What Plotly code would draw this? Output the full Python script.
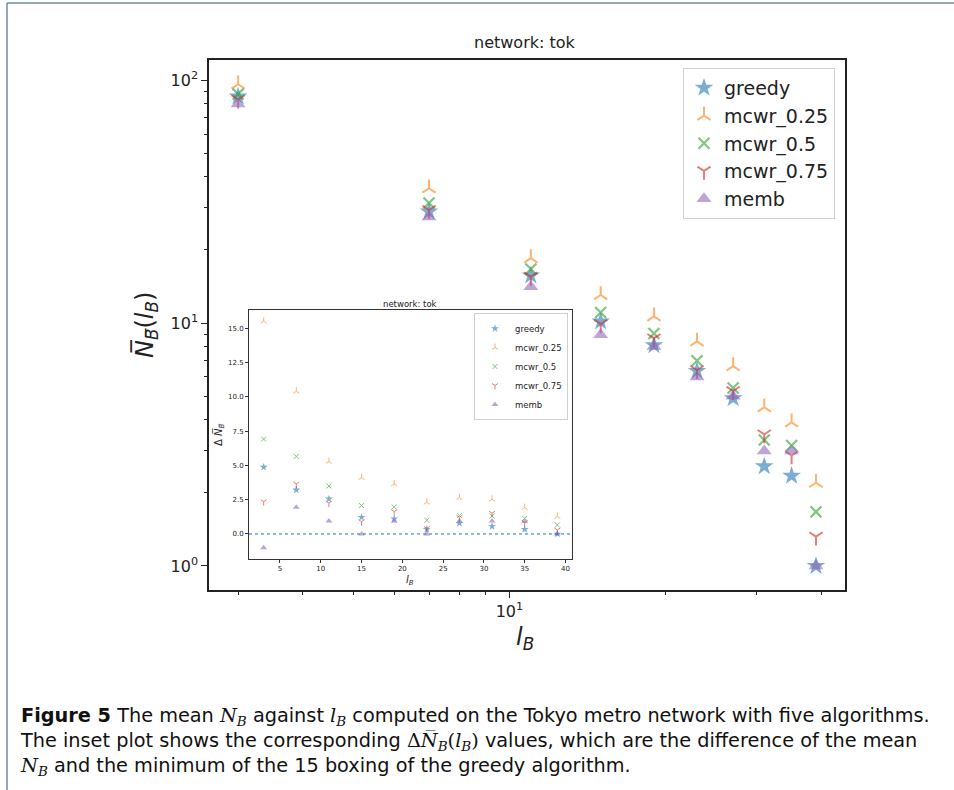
import plotly.graph_objects as go

# ---------------- data ----------------
lB = [3, 7, 11, 15, 19, 23, 27, 31, 35, 39]

# main plot: mean N_B
greedy = [85.6, 28.8, 15.7, 10.15, 8.1, 6.35, 4.9, 2.57, 2.35, 1.0]
mcwr_025 = [96.2, 35.9, 18.5, 13.05, 10.65, 8.4, 6.65, 4.5, 3.9, 2.2]
mcwr_05 = [87.6, 31.2, 16.7, 11.05, 9.05, 7.0, 5.4, 3.3, 3.13, 1.67]
mcwr_075 = [83.1, 29.2, 15.5, 9.9, 8.65, 6.4, 5.25, 3.48, 2.85, 1.32]
memb = [79.7, 27.3, 14.1, 8.95, 8.0, 6.0, 5.0, 2.97, 2.97, 1.0]

# inset: Delta N_B
d_greedy = [4.87, 3.21, 2.56, 1.22, 1.10, 0.34, 0.78, 0.56, 0.34, 0.0]
d_025 = [15.51, 10.4, 5.28, 4.11, 3.65, 2.31, 2.65, 2.53, 1.92, 1.27]
d_05 = [6.92, 5.65, 3.5, 2.07, 1.97, 1.0, 1.34, 1.31, 1.14, 0.66]
d_075 = [2.36, 3.65, 2.24, 0.9, 1.63, 0.41, 1.22, 1.51, 0.83, 0.29]
d_memb = [-1.0, 1.95, 0.95, 0.0, 0.93, 0.0, 0.95, 0.95, 0.9, 0.0]

names = ["greedy", "mcwr_0.25", "mcwr_0.5", "mcwr_0.75", "memb"]
main_series = [greedy, mcwr_025, mcwr_05, mcwr_075, memb]
inset_series = [d_greedy, d_025, d_05, d_075, d_memb]

colors = ["#1f77b4", "#ff7f0e", "#2ca02c", "#d62728", "#9467bd"]
symbols = ["star", "y-up", "x-thin", "y-down", "triangle-up"]
main_sizes = [14, 11, 11, 11, 13]
main_lw = [0, 2, 2.2, 2, 0]
inset_sizes = [6, 5, 5, 5, 6]
inset_lw = [0, 1, 1, 1, 0]

W, H = 954, 790
def px(x):
    return x / W
def py(y):
    return 1 - y / H

FONT = "DejaVu Sans"

fig = go.Figure()

for i in range(5):
    fig.add_trace(go.Scatter(
        x=lB, y=main_series[i], mode="markers", name=names[i],
        xaxis="x", yaxis="y", legend="legend",
        marker=dict(symbol=symbols[i], size=main_sizes[i], color=colors[i],
                    opacity=0.6,
                    line=dict(width=main_lw[i], color=colors[i])),
    ))

for i in range(5):
    fig.add_trace(go.Scatter(
        x=lB, y=inset_series[i], mode="markers", name=names[i],
        xaxis="x2", yaxis="y2", legend="legend2",
        marker=dict(symbol=symbols[i], size=inset_sizes[i], color=colors[i],
                    opacity=0.6,
                    line=dict(width=inset_lw[i], color=colors[i])),
    ))

minor_x = [3, 4, 5, 6, 7, 8, 9, 20, 30, 40]
minor_y = [2, 3, 4, 5, 6, 7, 8, 9, 20, 30, 40, 50, 60, 70, 80, 90]

fig.update_layout(
    width=W, height=H,
    margin=dict(l=0, r=0, t=0, b=0),
    paper_bgcolor="white", plot_bgcolor="white",
    font=dict(family=FONT, color="#222"),
    showlegend=True,
    xaxis=dict(
        type="log", domain=[px(209), px(845)], range=[0.421, 1.647],
        anchor="y", showline=True, mirror=True, linecolor="#222", linewidth=1.5,
        ticks="outside", ticklen=6, tickwidth=1.3, tickcolor="#222",
        tickvals=[10], ticktext=["10<sup>1</sup>"], tickfont=dict(size=16),
        minor=dict(ticks="outside", ticklen=3.5, tickwidth=1, tickcolor="#222",
                   tickvals=minor_x, showgrid=False),
        showgrid=False, zeroline=False,
    ),
    yaxis=dict(
        type="log", domain=[py(590), py(60)], range=[-0.099, 2.083],
        anchor="x", showline=True, mirror=True, linecolor="#222", linewidth=1.5,
        ticks="outside", ticklen=6, tickwidth=1.3, tickcolor="#222",
        tickvals=[1, 10, 100],
        ticktext=["10<sup>0</sup>", "10<sup>1</sup>", "10<sup>2</sup>"],
        tickfont=dict(size=16),
        minor=dict(ticks="outside", ticklen=3.5, tickwidth=1, tickcolor="#222",
                   tickvals=minor_y, showgrid=False),
        showgrid=False, zeroline=False,
    ),
    xaxis2=dict(
        domain=[px(249), px(572)], range=[1.2, 40.8], anchor="y2",
        showline=True, mirror=True, linecolor="#333", linewidth=1,
        ticks="outside", ticklen=3, tickwidth=0.8, tickcolor="#333",
        tickvals=[5, 10, 15, 20, 25, 30, 35, 40], tickfont=dict(size=7),
        showgrid=False, zeroline=False,
    ),
    yaxis2=dict(
        domain=[py(559), py(310)], range=[-1.825, 16.325], anchor="x2",
        showline=True, mirror=True, linecolor="#333", linewidth=1,
        ticks="outside", ticklen=3, tickwidth=0.8, tickcolor="#333",
        tickvals=[0, 2.5, 5, 7.5, 10, 12.5, 15], tickformat=".1f",
        tickfont=dict(size=7),
        showgrid=False, zeroline=False,
    ),
    legend=dict(
        x=px(835), y=py(68), xanchor="right", yanchor="top",
        bgcolor="white", bordercolor="#d0d0d0", borderwidth=1,
        font=dict(size=19, family=FONT, color="#222"),
        itemsizing="trace", tracegroupgap=0,
    ),
    legend2=dict(
        x=px(568), y=py(313), xanchor="right", yanchor="top",
        bgcolor="white", bordercolor="#d0d0d0", borderwidth=1,
        font=dict(size=8.5, family=FONT, color="#222"),
        itemsizing="trace", tracegroupgap=0,
    ),
)

# dotted zero line in inset
fig.add_shape(type="line", xref="x2 domain", yref="y2", x0=0, x1=1, y0=0, y1=0,
              line=dict(color="#1f77b4", width=1, dash="dot"))

# outer figure frame
fig.add_shape(type="line", xref="paper", yref="paper", x0=px(7), x1=1, y0=py(3), y1=py(3),
              line=dict(color="#7088a8", width=1.5))
fig.add_shape(type="line", xref="paper", yref="paper", x0=px(7), x1=px(7), y0=py(3), y1=0,
              line=dict(color="#7088a8", width=1.5))

def A(**kw):
    d = dict(xref="paper", yref="paper", showarrow=False,
             xanchor="center", yanchor="middle")
    d.update(kw)
    return d

ann = []
# main title
ann.append(A(x=px(525), y=py(43), text="network: tok",
             font=dict(size=16, family=FONT, color="#222")))
# main y label
ann.append(A(x=px(146), y=py(325), textangle=-90,
             text="<i>N\u0305</i><sub><i>B</i>\u0305</sub>(<i>l</i><sub><i>B</i></sub>)",
             font=dict(size=24, family=FONT, color="#222")))
# main x label
ann.append(A(x=px(525), y=py(638),
             text="<i>l</i><sub><i>B</i></sub>",
             font=dict(size=24, family=FONT, color="#222")))
# inset title
ann.append(A(x=px(410), y=py(304), text="network: tok",
             font=dict(size=8.5, family=FONT, color="#222")))
# inset y label
ann.append(A(x=px(219), y=py(435), textangle=-90,
             text="\u0394 <i>N\u0305</i><sub><i>B</i>\u0305</sub>",
             font=dict(size=10, family=FONT, color="#222")))
# inset x label
ann.append(A(x=px(410), y=py(580),
             text="<i>l</i><sub><i>B</i></sub>",
             font=dict(size=10, family=FONT, color="#222")))

M = "font-family:'DejaVu Serif'"
cap = ("<b>Figure 5</b> The mean <span style=\"%s\"><i>N</i><sub><i>B</i></sub></span> against "
       "<span style=\"%s\"><i>l</i><sub><i>B</i></sub></span> computed on the Tokyo metro network with five algorithms."
       "<br>The inset plot shows the corresponding <span style=\"%s\">\u0394<i>N\u0305</i><sub><i>B</i></sub>(<i>l</i><sub><i>B</i></sub>)</span>"
       " values, which are the difference of the mean"
       "<br><span style=\"%s\"><i>N</i><sub><i>B</i></sub></span> and the minimum of the 15 boxing of the greedy algorithm.") % (M, M, M, M)
ann.append(A(x=px(18), y=py(741), xanchor="left", align="left",
             text=cap, font=dict(size=19.3, family=FONT, color="#111")))

fig.update_layout(annotations=ann)

fig.write_html("out.html", config={"displayModeBar": False},
               post_script="document.body.style.margin='0px';")
